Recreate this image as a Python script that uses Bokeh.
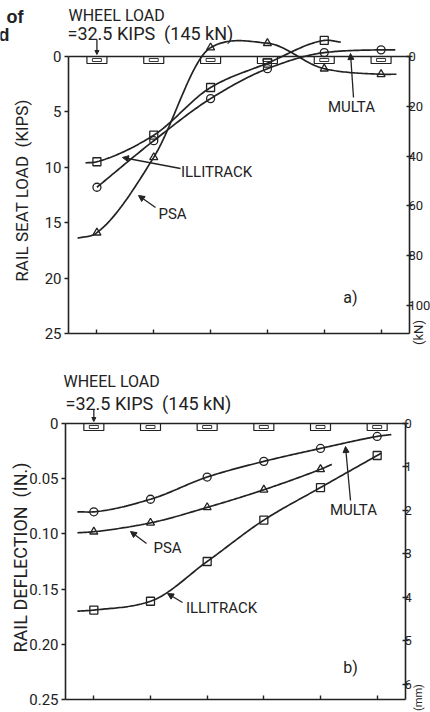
import numpy as np
from bokeh.plotting import figure
from bokeh.layouts import column
from bokeh.models import (Range1d, LinearAxis, FixedTicker, Label, Arrow, NormalHead,
                          CustomJSTickFormatter)
from bokeh.embed import file_html
from bokeh.resources import INLINE

# ---------------- data ----------------
TIES = [1, 2, 3, 4, 5, 6]

# (a) rail seat load, kips
SEAT_TICKS = [0, 5, 10, 15, 20, 25]
SEAT_KN_TICKS = [0, 20, 40, 60, 80, 100]
SEAT_ILLITRACK_X = [1, 2, 3, 4, 5]
SEAT_ILLITRACK_Y = [9.5, 7.1, 2.8, 0.6, -1.45]
SEAT_ILLITRACK_ENDS_X = [0.80, 5.29]
SEAT_ILLITRACK_ENDS_Y = [9.6, -1.3]
SEAT_MULTA_X = [1, 2, 3, 4, 5, 6]
SEAT_MULTA_Y = [11.8, 7.6, 3.8, 1.1, -0.35, -0.6]
SEAT_MULTA_ENDS_X = [1.0, 6.25]
SEAT_MULTA_ENDS_Y = [11.8, -0.6]
SEAT_PSA_X = [1, 2, 3, 4, 5, 6]
SEAT_PSA_Y = [15.9, 9.1, -0.8, -1.2, 1.1, 1.6]
SEAT_PSA_ENDS_X = [0.66, 6.27]
SEAT_PSA_ENDS_Y = [16.4, 1.6]

# (b) rail deflection, in.
DEFL_TICKS = [0, 0.05, 0.10, 0.15, 0.20, 0.25]
DEFL_MM_TICKS = [0, 1, 2, 3, 4, 5, 6]
DEFL_MULTA_X = [1, 2, 3, 4, 5, 6]
DEFL_MULTA_Y = [0.080, 0.0686, 0.0485, 0.0343, 0.0226, 0.0117]
DEFL_MULTA_ENDS_X = [0.71, 6.25]
DEFL_MULTA_ENDS_Y = [0.080, 0.010]
DEFL_PSA_X = [1, 2, 3, 4, 5]
DEFL_PSA_Y = [0.098, 0.090, 0.076, 0.060, 0.0415]
DEFL_PSA_ENDS_X = [0.71, 5.20]
DEFL_PSA_ENDS_Y = [0.099, 0.037]
DEFL_ILLITRACK_X = [1, 2, 3, 4, 5, 6]
DEFL_ILLITRACK_Y = [0.169, 0.161, 0.125, 0.0875, 0.058, 0.029]
DEFL_ILLITRACK_ENDS_X = [0.71, 6.07]
DEFL_ILLITRACK_ENDS_Y = [0.170, 0.027]

KN_PER_KIP = 4.448
MM_PER_IN = 25.4

# ---------------- layout constants (page pixels) ----------------
FIG_W = 430
INK = "#222222"
FONT = "Roboto"


def smooth(xs, ys, n=30):
    """smooth cubic curve through the given points (drawing only)"""
    xs = np.asarray(xs, float)
    ys = np.asarray(ys, float)
    h = np.diff(xs)
    d = np.diff(ys) / h
    m = np.zeros_like(ys)
    for i in range(1, len(xs) - 1):
        cr = (ys[i + 1] - ys[i - 1]) / (xs[i + 1] - xs[i - 1])
        pc = 0.0
        if d[i - 1] * d[i] > 0:
            w1 = 2 * h[i] + h[i - 1]
            w2 = h[i] + 2 * h[i - 1]
            pc = (w1 + w2) / (w1 / d[i - 1] + w2 / d[i])
        m[i] = 0.5 * (cr + pc)
    m[0] = d[0]
    m[-1] = d[-1]
    ox, oy = [], []
    t = np.linspace(0, 1, n, endpoint=False)
    for i in range(len(xs) - 1):
        hi = h[i]
        h00 = 2 * t**3 - 3 * t**2 + 1
        h10 = t**3 - 2 * t**2 + t
        h01 = -2 * t**3 + 3 * t**2
        h11 = t**3 - t**2
        ox.extend(xs[i] + t * hi)
        oy.extend(h00 * ys[i] + h10 * hi * m[i] + h01 * ys[i + 1] + h11 * hi * m[i + 1])
    ox.append(xs[-1])
    oy.append(ys[-1])
    return ox, oy


def curve_points(mx, my, ex, ey):
    pts = {}
    for x, y in zip(mx, my):
        pts[x] = y
    for x, y in zip(ex, ey):
        pts.setdefault(x, y)
    xs = sorted(pts)
    return xs, [pts[x] for x in xs]


class Panel:
    def __init__(self, top, height, left_px, right_px, zero_px, px_per_unit):
        self.top, self.left_px, self.right_px = top, left_px, right_px
        self.zero_px, self.k = zero_px, px_per_unit
        self.p = figure(width=FIG_W, height=height,
                        x_range=Range1d(self.dx(0), self.dx(FIG_W)),
                        y_range=Range1d(self.dy(top + height), self.dy(top)),
                        output_backend="svg", toolbar_location=None,
                        min_border=0, outline_line_color=None,
                        background_fill_color="white", border_fill_color="white",
                        x_axis_type=None, y_axis_type=None)
        self.p.grid.visible = False

    def dx(self, px):
        return 0.5 + (px - self.left_px) * 6.0 / (self.right_px - self.left_px)

    def dy(self, py):
        return (py - self.zero_px) / self.k


def style_axis(ax, tin, tout, standoff=3, size="15px"):
    ax.major_tick_in = tin
    ax.major_tick_out = tout
    ax.minor_tick_line_color = None
    ax.major_label_standoff = standoff
    ax.axis_line_color = INK
    ax.axis_line_width = 1.6
    ax.major_tick_line_color = INK
    ax.major_tick_line_width = 1.4
    ax.major_label_text_font = FONT
    ax.major_label_text_font_size = size
    ax.major_label_text_color = INK


def build_axes(pn, y_bottom, y_ticks, y_fmt, extra_name, factor, extra_ticks):
    p = pn.p
    no_label = CustomJSTickFormatter(code="return ''")
    # bottom (tie positions)
    xb = LinearAxis(fixed_location=y_bottom, bounds=(0.5, 6.5), ticker=FixedTicker(ticks=TIES),
                    formatter=no_label)
    style_axis(xb, 4, 0, 0, "0px")
    p.add_layout(xb, "below")
    # top line (rail at zero)
    xt = LinearAxis(fixed_location=0, bounds=(0.5, 6.5), ticker=FixedTicker(ticks=[]),
                    formatter=no_label)
    style_axis(xt, 0, 0, 0, "0px")
    p.add_layout(xt, "above")
    # left
    yl = LinearAxis(fixed_location=0.5, bounds=(0, y_bottom), ticker=FixedTicker(ticks=y_ticks))
    if y_fmt is not None:
        yl.formatter = y_fmt
    style_axis(yl, 0, 4, 3, "15px")
    p.add_layout(yl, "left")
    # right, metric
    yr0, yr1 = p.y_range.start, p.y_range.end
    p.extra_y_ranges = {extra_name: Range1d(yr0 * factor, yr1 * factor)}
    yr = LinearAxis(y_range_name=extra_name, fixed_location=6.5, bounds=(0, y_bottom * factor),
                    ticker=FixedTicker(ticks=extra_ticks))
    style_axis(yr, 3, 3, -4, "13px")
    p.add_layout(yr, "right")


def add_ties(pn):
    p = pn.p
    ys = [3.5 / pn.k] * len(TIES)
    p.rect(TIES, ys, width=20, height=7, width_units="screen", height_units="screen",
           fill_color="white", line_color=INK, line_width=1.2)
    p.rect(TIES, ys, width=9, height=3, width_units="screen", height_units="screen",
           fill_color=None, line_color=INK, line_width=0.9)


def text(pn, s, px, py, size=15, align="center", angle=0.0, bold=False, font=FONT):
    pn.p.add_layout(Label(x=pn.dx(px), y=pn.dy(py), text=s, text_font=font,
                          text_font_size=f"{size}px", text_color=INK, text_align=align,
                          text_baseline="middle", angle=angle,
                          text_font_style="bold" if bold else "normal"))


def leader(pn, px0, py0, px1, py1, head=6, x_data=None):
    x0 = pn.dx(px0) if x_data is None else x_data
    x1 = pn.dx(px1) if x_data is None else x_data
    pn.p.add_layout(Arrow(end=NormalHead(size=head, fill_color=INK, line_color=INK, line_width=1),
                          x_start=x0, y_start=pn.dy(py0), x_end=x1, y_end=pn.dy(py1),
                          line_color=INK, line_width=1.3))


def draw_series(pn, mx, my, ex, ey, marker):
    cx, cy = curve_points(mx, my, ex, ey)
    sx, sy = smooth(cx, cy)
    pn.p.line(sx, sy, line_color=INK, line_width=1.7)
    pn.p.scatter(mx, my, marker=marker, size=8, fill_color=None, line_color=INK, line_width=1.3)


# ---------------- panel (a) ----------------
A = Panel(top=0, height=360, left_px=68, right_px=409, zero_px=56, px_per_unit=11.08)
build_axes(A, 25, SEAT_TICKS, None, "kn", KN_PER_KIP, SEAT_KN_TICKS)
add_ties(A)
draw_series(A, SEAT_ILLITRACK_X, SEAT_ILLITRACK_Y, SEAT_ILLITRACK_ENDS_X, SEAT_ILLITRACK_ENDS_Y, "square")
draw_series(A, SEAT_MULTA_X, SEAT_MULTA_Y, SEAT_MULTA_ENDS_X, SEAT_MULTA_ENDS_Y, "circle")
draw_series(A, SEAT_PSA_X, SEAT_PSA_Y, SEAT_PSA_ENDS_X, SEAT_PSA_ENDS_Y, "triangle")

text(A, "(kN)", 418, 332, size=13, angle=np.pi / 2)
text(A, "RAIL SEAT LOAD\u00a0 (KIPS)", 21, 190, size=17, angle=np.pi / 2)
text(A, "WHEEL LOAD", 68, 15, size=16, align="left")
text(A, "=32.5 KIPS\u00a0 (145 kN)", 67, 33, size=18, align="left")
leader(A, 0, 39, 0, 54, head=4, x_data=1)
text(A, "MULTA", 351, 106)
leader(A, 353, 97, 350, 53)
text(A, "ILLITRACK", 216, 171)
leader(A, 180, 168, 122, 157)
text(A, "PSA", 172, 213)
leader(A, 155, 207, 138, 195)
text(A, "a)", 350, 297, size=16)
text(A, "of", 23, 16, size=18, align="right", bold=True, font="Liberation Sans")
text(A, "d", 9, 34, size=18, align="right", bold=True, font="Liberation Sans")

# ---------------- panel (b) ----------------
B = Panel(top=360, height=352, left_px=65, right_px=405, zero_px=423, px_per_unit=1104.0)
build_axes(B, 0.25, DEFL_TICKS, CustomJSTickFormatter(code="return tick == 0 ? '0' : tick.toFixed(2)"),
           "mm", MM_PER_IN, DEFL_MM_TICKS)
add_ties(B)
draw_series(B, DEFL_MULTA_X, DEFL_MULTA_Y, DEFL_MULTA_ENDS_X, DEFL_MULTA_ENDS_Y, "circle")
draw_series(B, DEFL_PSA_X, DEFL_PSA_Y, DEFL_PSA_ENDS_X, DEFL_PSA_ENDS_Y, "triangle")
draw_series(B, DEFL_ILLITRACK_X, DEFL_ILLITRACK_Y, DEFL_ILLITRACK_ENDS_X, DEFL_ILLITRACK_ENDS_Y, "square")

text(B, "(mm)", 418, 697, size=11, angle=np.pi / 2)
text(B, "RAIL DEFLECTION\u00a0 (IN.)", 20, 557, size=18, angle=np.pi / 2)
text(B, "WHEEL LOAD", 63, 381, size=16, align="left")
text(B, "=32.5 KIPS\u00a0 (145 kN)", 65, 403, size=18, align="left")
leader(B, 0, 409, 0, 421, head=4, x_data=1)
text(B, "MULTA", 353, 509)
leader(B, 350, 500, 345, 446)
text(B, "PSA", 167, 547)
leader(B, 146, 543, 130, 531)
text(B, "ILLITRACK", 221, 607)
leader(B, 182, 602, 167, 593)
text(B, "b)", 350, 667, size=16)

layout = column(A.p, B.p)
open("out.html", "w").write(file_html(layout, INLINE))
